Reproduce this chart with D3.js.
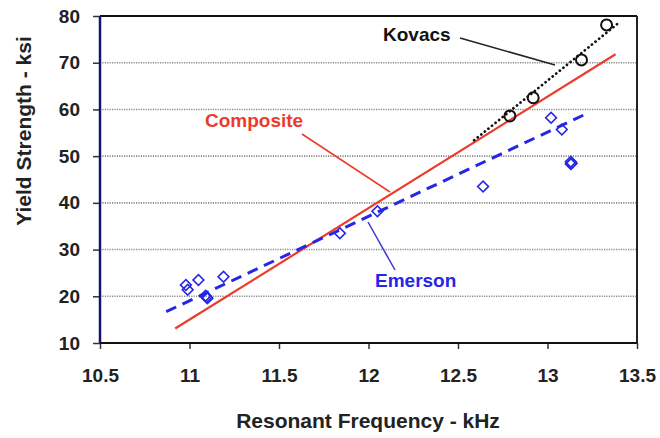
<!DOCTYPE html>
<html><head><meta charset="utf-8">
<script src="https://cdn.jsdelivr.net/npm/d3@7"></script>
<style>body{margin:0;background:#fff}svg{display:block}text{font-family:"Liberation Sans",Arial,sans-serif;font-weight:bold}</style>
</head><body><svg id="c" width="660" height="438"></svg>
<script>
const xTicks = [10.5, 11, 11.5, 12, 12.5, 13, 13.5];
const yTicks = [10, 20, 30, 40, 50, 60, 70, 80];
const emersonX = [10.98, 10.99, 11.05, 11.09, 11.095, 11.1, 11.19, 11.84, 12.05, 12.64, 13.02, 13.08, 13.13, 13.13, 13.135];
const emersonY = [22.4, 21.4, 23.5, 20.1, 19.8, 19.6, 24.2, 33.5, 38.2, 43.5, 58.2, 55.7, 48.8, 48.3, 48.5];
const kovacsX = [12.79, 12.92, 13.19, 13.33];
const kovacsY = [58.6, 62.5, 70.6, 78.1];
const compositeLineX = [10.92, 13.38];
const compositeLineY = [13.1, 71.8];
const emersonLineX = [10.87, 13.23];
const emersonLineY = [16.7, 59.3];
const kovacsLineX = [12.59, 13.39];
const kovacsLineY = [53.4, 78.3];

const svg = d3.select("#c");
const L = 100, R = 637, T = 16, B = 343;
const x = d3.scaleLinear().domain([10.5, 13.5]).range([L, R]);
const y = d3.scaleLinear().domain([10, 80]).range([B, T]);

const blue = "#2626e6", red = "#ec3b2c";

// gridlines
svg.append("g").selectAll("line").data(yTicks.filter(v => v > 10 && v < 80)).join("line")
  .attr("x1", L).attr("x2", R).attr("y1", d => y(d)).attr("y2", d => y(d))
  .attr("stroke", "#8a8a8a").attr("stroke-width", 1.6).attr("stroke-dasharray", "1.2,1.2");

// axes
const yAxis = svg.append("g").attr("transform", `translate(${L},0)`)
  .call(d3.axisLeft(y).tickValues(yTicks).tickSize(7).tickPadding(13).tickFormat(d3.format("d")));
yAxis.select(".domain").remove();
yAxis.selectAll(".tick line").attr("stroke", "#333").attr("stroke-width", 1.5);
yAxis.selectAll("text").attr("font-size", 19).attr("fill", "#222");

const xAxis = svg.append("g").attr("transform", `translate(0,${B})`)
  .call(d3.axisBottom(x).tickValues(xTicks).tickSize(6).tickPadding(20).tickFormat(d => String(d)));
xAxis.select(".domain").remove();
xAxis.selectAll(".tick line").attr("stroke", "#333").attr("stroke-width", 1.5);
xAxis.selectAll("text").attr("font-size", 19).attr("fill", "#222");

// frame
svg.append("line").attr("x1", L).attr("x2", R).attr("y1", T).attr("y2", T).attr("stroke", "#111").attr("stroke-width", 2);
svg.append("line").attr("x1", R).attr("x2", R).attr("y1", T).attr("y2", B).attr("stroke", "#222").attr("stroke-width", 2);
svg.append("line").attr("x1", L).attr("x2", R).attr("y1", B).attr("y2", B).attr("stroke", "#111").attr("stroke-width", 2);
svg.append("line").attr("x1", L).attr("x2", L).attr("y1", T).attr("y2", B).attr("stroke", "#141470").attr("stroke-width", 2.5);

// fit lines
const ln = d3.line().x(d => x(d[0])).y(d => y(d[1]));
svg.append("path").attr("d", ln(d3.zip(compositeLineX, compositeLineY))).attr("stroke", red).attr("stroke-width", 2.2).attr("fill", "none");
svg.append("path").attr("d", ln(d3.zip(emersonLineX, emersonLineY))).attr("stroke", blue).attr("stroke-width", 3).attr("stroke-dasharray", "11,7").attr("fill", "none");
svg.append("path").attr("d", ln(d3.zip(kovacsLineX, kovacsLineY))).attr("stroke", "#111").attr("stroke-width", 2.7).attr("stroke-dasharray", "0.1,4.5").attr("stroke-linecap", "round").attr("fill", "none");

// points
const dia = d3.symbol().type(d3.symbolSquare).size(58);
svg.append("g").selectAll("path").data(d3.zip(emersonX, emersonY)).join("path")
  .attr("d", dia).attr("transform", d => `translate(${x(d[0])},${y(d[1])}) rotate(45)`)
  .attr("fill", "none").attr("stroke", blue).attr("stroke-width", 1.6);
svg.append("g").selectAll("circle").data(d3.zip(kovacsX, kovacsY)).join("circle")
  .attr("cx", d => x(d[0])).attr("cy", d => y(d[1])).attr("r", 5.5)
  .attr("fill", "none").attr("stroke", "#111").attr("stroke-width", 2);

// annotations
svg.append("line").attr("x1", 460).attr("y1", 38).attr("x2", 555).attr("y2", 65).attr("stroke", "#222").attr("stroke-width", 1.5);
svg.append("text").attr("x", 383).attr("y", 41).attr("font-size", 19).attr("fill", "#111").text("Kovacs");
svg.append("line").attr("x1", 302).attr("y1", 134).attr("x2", 390).attr("y2", 192).attr("stroke", red).attr("stroke-width", 1.5);
svg.append("text").attr("x", 205).attr("y", 127).attr("font-size", 19).attr("fill", red).text("Composite");
svg.append("line").attr("x1", 395).attr("y1", 270).attr("x2", 368).attr("y2", 222).attr("stroke", "#3a3ad0").attr("stroke-width", 1.5);
svg.append("text").attr("x", 375).attr("y", 287).attr("font-size", 19).attr("fill", blue).text("Emerson");

// axis titles
svg.append("text").attr("transform", "translate(31,131) rotate(-90)").attr("text-anchor", "middle")
  .attr("font-size", 21).attr("fill", "#222").text("Yield Strength - ksi");
svg.append("text").attr("x", 368).attr("y", 428).attr("text-anchor", "middle")
  .attr("font-size", 21).attr("fill", "#222").text("Resonant Frequency - kHz");
</script></body></html>
